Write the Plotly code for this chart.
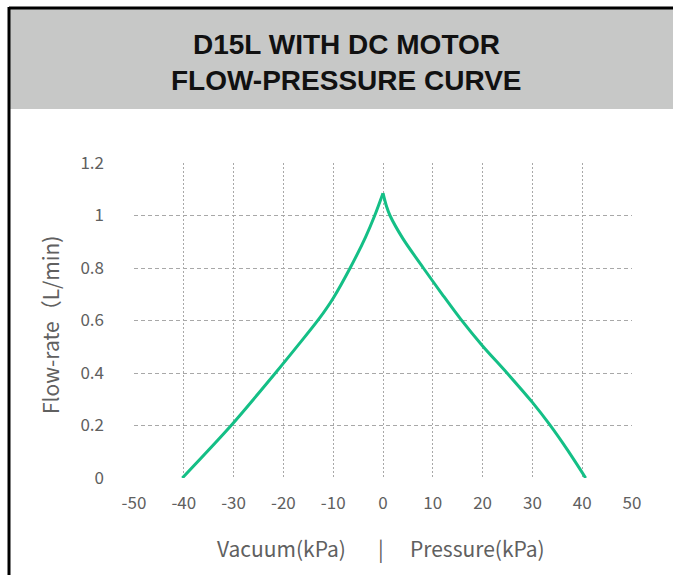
import plotly.graph_objects as go

# Data
vac_kpa = [-40.3, -30.5, -21.6, -17, -12.9, -10, -6.6, -3.5, -1.7, 0]
vac_flow = [0.0, 0.2, 0.4, 0.507, 0.605, 0.685, 0.8, 0.918, 0.998, 1.085]
prs_kpa = [0, 0.7, 1.4, 4, 8.1, 12, 15.6, 20, 24.9, 30, 33.4, 37, 40.7]
prs_flow = [1.085, 1.035, 1.0, 0.912, 0.8, 0.697, 0.605, 0.503, 0.4, 0.288, 0.205, 0.108, 0.0]

x_ticks = [-50, -40, -30, -20, -10, 0, 10, 20, 30, 40, 50]
x_tick_text = ["-50", "-40", "-30", "-20", "-10", "0", "10", "20", "30", "40", "50"]
y_ticks = [0, 0.2, 0.4, 0.6, 0.8, 1.0, 1.2]
y_tick_text = ["0", "0.2", "0.4", "0.6", "0.8", "1", "1.2"]

title_lines = ["D15L WITH DC MOTOR", "FLOW-PRESSURE CURVE"]
y_title = "Flow-rate（L/min)"
x_title_left = "Vacuum(kPa)"
x_title_sep = "|"
x_title_right = "Pressure(kPa)"

W, H = 673, 575
L, R, T, B = 134, 632, 163, 478  # plot area in pixels


def px(x):
    return (x - L) / (R - L)


def py(y):
    return (B - y) / (B - T)


FONT = "Noto Sans CJK SC"
GREY = "#606060"
LINE = dict(color="#14BF86", width=3, shape="spline", smoothing=0.8)

fig = go.Figure()
fig.add_trace(go.Scatter(x=vac_kpa, y=vac_flow, mode="lines", line=LINE, hoverinfo="skip"))
fig.add_trace(go.Scatter(x=prs_kpa, y=prs_flow, mode="lines", line=LINE, hoverinfo="skip"))

tick_font = dict(family=FONT, size=17, color=GREY)
lab_font = dict(family=FONT, size=21, color=GREY)
title_font = dict(family="Liberation Sans", size=28, color="#111111", weight="bold")

fig.update_layout(
    width=W, height=H,
    margin=dict(l=L, r=W - R, t=T, b=H - B, pad=0),
    paper_bgcolor="white", plot_bgcolor="white",
    showlegend=False,
    xaxis=dict(range=[-50, 50], tickvals=x_ticks, ticktext=x_tick_text, showgrid=True,
               gridcolor="#a8a8a8", griddash="2px,2px", gridwidth=1, zeroline=False,
               showline=False, ticks="", tickfont=tick_font, ticklabelstandoff=13,
               fixedrange=True),
    yaxis=dict(range=[0, 1.2], tickvals=y_ticks, ticktext=y_tick_text, showgrid=True,
               gridcolor="#a8a8a8", griddash="4px,3px", gridwidth=1, zeroline=False,
               showline=False, ticks="", tickfont=tick_font, ticklabelstandoff=29,
               fixedrange=True),
    shapes=[
        dict(type="rect", xref="paper", yref="paper", x0=px(9), x1=px(673), y0=py(8), y1=py(109),
             fillcolor="#C7C8C7", line=dict(width=0), layer="below"),
        dict(type="line", xref="paper", yref="paper", x0=px(9), x1=px(673), y0=py(8), y1=py(8),
             line=dict(color="black", width=3)),
        dict(type="line", xref="paper", yref="paper", x0=px(9), x1=px(9), y0=py(7), y1=py(575),
             line=dict(color="black", width=3)),
    ],
    annotations=[
        dict(text=title_lines[0], xref="paper", yref="paper", x=px(346), y=py(44),
             showarrow=False, xanchor="center", yanchor="middle", font=title_font),
        dict(text=title_lines[1], xref="paper", yref="paper", x=px(346), y=py(80),
             showarrow=False, xanchor="center", yanchor="middle", font=title_font),
        dict(text=y_title, xref="paper", yref="paper", x=px(50), y=py(325), textangle=-90,
             showarrow=False, xanchor="center", yanchor="middle", font=lab_font),
        dict(text=x_title_left, xref="paper", yref="paper", x=px(348), y=py(548),
             showarrow=False, xanchor="right", yanchor="middle", font=lab_font),
        dict(text=x_title_sep, xref="paper", yref="paper", x=px(381), y=py(548),
             showarrow=False, xanchor="center", yanchor="middle", font=lab_font),
        dict(text=x_title_right, xref="paper", yref="paper", x=px(408), y=py(548),
             showarrow=False, xanchor="left", yanchor="middle", font=lab_font),
    ],
)

fig.write_html("out.html", config={"displayModeBar": False})
